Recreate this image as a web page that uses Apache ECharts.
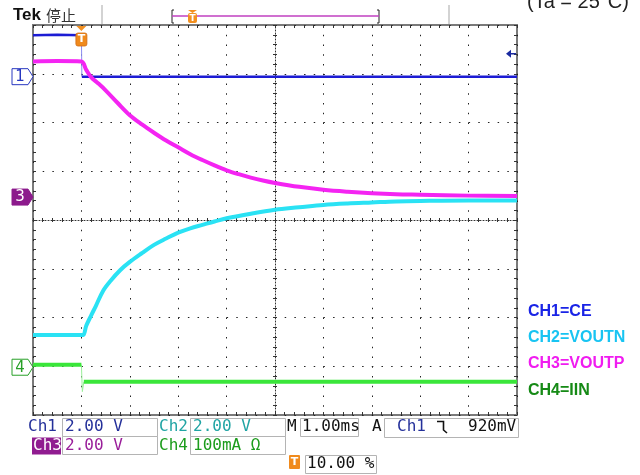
<!DOCTYPE html>
<html><head><meta charset="utf-8">
<script src="https://cdn.jsdelivr.net/npm/echarts/dist/echarts.min.js"></script>
<style>html,body{margin:0;padding:0;background:#fff}#c{width:640px;height:475px}</style>
</head><body><div id="c"></div>
<script>
// Horizontal: time in ms (1.00 ms/div, trigger at 0, 10% position)
const timeRange = [-1, 9];
// Vertical: screen divisions (2.00 V/div, 100 mA/div)
const divRange = [-4, 4];
const ch1CE = [[-1,3.79],[-0.5,3.80],[0,3.79],[0.01,2.94],[4,2.94],[9,2.94]];
const ch2VOUTN = [[-1,-2.36],[-0.5,-2.36],[0,-2.36],[0.04,-2.36],[0.1,-2.17],[0.2,-1.96],[0.3,-1.76],[0.45,-1.45],[0.6,-1.25],[0.8,-1.03],[1.0,-0.86],[1.25,-0.68],[1.5,-0.51],[1.75,-0.38],[2.0,-0.26],[2.25,-0.17],[2.5,-0.10],[2.75,-0.03],[3.0,0.035],[3.5,0.13],[4.0,0.21],[4.5,0.26],[5.0,0.31],[5.5,0.34],[6.0,0.36],[6.5,0.38],[7.0,0.39],[8.0,0.40],[9.0,0.40]];
const ch3VOUTP = [[-1,3.25],[-0.5,3.26],[0,3.25],[0.1,3.08],[0.2,2.93],[0.35,2.80],[0.5,2.66],[0.75,2.40],[1.0,2.15],[1.25,1.96],[1.5,1.79],[1.75,1.63],[2.0,1.49],[2.25,1.35],[2.5,1.23],[2.75,1.12],[3.0,1.02],[3.25,0.94],[3.5,0.87],[3.75,0.81],[4.0,0.76],[4.5,0.68],[5.0,0.62],[5.5,0.58],[6.0,0.55],[6.5,0.53],[7.0,0.52],[8.0,0.50],[9.0,0.49]];
const ch4IIN = [[-1,-2.97],[-0.5,-2.97],[0,-2.97],[0.02,-3.52],[0.05,-3.32],[4,-3.32],[9,-3.32]];
const groundLevels = {ch1: 2.94, ch3: 0.47, ch4: -3.02};
const triggerLevel = 3.41;   // 920 mV on Ch1
const legendNames = ['CH1=CE','CH2=VOUTN','CH3=VOUTP','CH4=IIN'];
const colors = {ch1:'#1c1cd4', ch2:'#2ae2f4', ch3:'#f424f2', ch4:'#3ae63a'};

const chart = echarts.init(document.getElementById('c'), null, {renderer:'canvas'});
const tickStyle = {color:'#333', width:1};
function xAx(extra){
  return Object.assign({type:'value', min:timeRange[0], max:timeRange[1], interval:1,
    axisLabel:{show:false}, splitLine:{show:false},
    axisLine:{show:false, onZero:false},
    axisTick:{show:true, inside:true, length:3, lineStyle:tickStyle},
    minorTick:{show:true, splitNumber:5, length:3, lineStyle:tickStyle}}, extra);
}
function yAx(extra){
  return Object.assign({type:'value', min:divRange[0], max:divRange[1], interval:1,
    axisLabel:{show:false}, splitLine:{show:false},
    axisLine:{show:false, onZero:false},
    axisTick:{show:true, inside:true, length:3, lineStyle:tickStyle},
    minorTick:{show:true, splitNumber:5, length:3, lineStyle:tickStyle}}, extra);
}
function line(data, color, width, z, smooth){
  return {type:'line', data, symbol:'none', showSymbol:false, silent:true, animation:false,
    smooth: smooth || false,
    lineStyle:{color, width, join:'round'}, itemStyle:{color}, z, xAxisIndex:0, yAxisIndex:0};
}
const option = {
  animation:false,
  backgroundColor:'#fff',
  grid:{left:33, top:25, width:484, height:390, show:true, borderColor:'#7a7a7a', borderWidth:2, backgroundColor:'#fff'},
  xAxis:[
    xAx({position:'bottom', splitLine:{show:true, lineStyle:{color:'#222', width:1, type:[1.5,8.25]}}}),
    xAx({position:'top'}),
    xAx({position:'bottom', offset:-195, axisLine:{show:true, onZero:false, lineStyle:{color:'#333', width:1, type:[1,2]}},
         axisTick:{show:true, inside:true, length:2, lineStyle:tickStyle}, minorTick:{show:true, splitNumber:5, length:2, lineStyle:tickStyle}}),
    xAx({position:'bottom', offset:-195, axisTick:{show:true, inside:false, length:2, lineStyle:tickStyle}, minorTick:{show:true, splitNumber:5, length:2, lineStyle:tickStyle}})
  ],
  yAxis:[
    yAx({position:'left', splitLine:{show:true, lineStyle:{color:'#222', width:1, type:[1.5,8.18]}}}),
    yAx({position:'right'}),
    yAx({position:'left', offset:-242, axisLine:{show:true, onZero:false, lineStyle:{color:'#333', width:1, type:[1,2]}},
         axisTick:{show:true, inside:true, length:2, lineStyle:tickStyle}, minorTick:{show:true, splitNumber:5, length:2, lineStyle:tickStyle}}),
    yAx({position:'left', offset:-242, axisTick:{show:true, inside:false, length:2, lineStyle:tickStyle}, minorTick:{show:true, splitNumber:5, length:2, lineStyle:tickStyle}})
  ],
  series:[
    line(ch1CE.slice(0,3), colors.ch1, 2.5, 5),
    line(ch1CE.slice(2,4), '#8a8cf0', 1, 4),
    line(ch1CE.slice(3), colors.ch1, 2.5, 5),
    line(ch2VOUTN, colors.ch2, 4, 6, 0.35),
    line(ch3VOUTP, colors.ch3, 4, 7, 0.35),
    line(ch4IIN.slice(0,3), colors.ch4, 4, 8),
    line(ch4IIN.slice(2,5), '#9af09a', 1, 4),
    line(ch4IIN.slice(4), colors.ch4, 4, 8)
  ]
};
chart.setOption(option);

const P = (x,y) => chart.convertToPixel({xAxisIndex:0, yAxisIndex:0}, [x,y]);
const g = [];
const T = (text, x, y, font, fill, extra) => g.push({type:'text', x, y, z:100, style:Object.assign({text, font, fill, verticalAlign:'middle', align:'left'}, extra||{})});
const R = (x, y, w, h, style) => g.push({type:'rect', z:90, shape:{x, y, width:w, height:h}, style:Object.assign({fill:'none', stroke:'#b4b4b4', lineWidth:1}, style||{})});
const L = (pts, stroke, w) => g.push({type:'polyline', z:95, shape:{points:pts}, style:{stroke, lineWidth:w||1, fill:'none'}});

// top status bar
T('Tek', 13, 15, 'bold 17px "Liberation Sans"', '#111');
T('停止', 46, 15, '15px "Noto Sans CJK SC"', '#333');
L([[102,5],[102,24]], '#c4c4c4', 1.5);
L([[449,5],[449,24]], '#c4c4c4', 1.5);
L([[174,10],[172,10],[172,23],[174,23]], '#222', 1);
L([[377,10],[379,10],[379,23],[377,23]], '#222', 1);
L([[172,16],[379,16]], '#c040c0', 1.5);
// small trigger position marker in the top bar
g.push({type:'polygon', z:96, shape:{points:[[188,10],[197,10],[192.5,13]]}, style:{fill:'#f39020'}});
g.push({type:'rect', z:96, shape:{x:188, y:13, width:9, height:10, r:2}, style:{fill:'#f39020'}});
T('T', 192.5, 18.5, 'bold 9px "DejaVu Sans"', '#fff', {align:'center'});

// (Ta = 25°C), clipped at top
g.push({type:'text', x:527, y:12, z:100, style:{text:'(Ta = 25°C)', font:'20px "Liberation Sans"', fill:'#222', verticalAlign:'bottom', align:'left'}});

// trigger marker on plot
const tp = P(0, 4);
g.push({type:'polygon', z:96, shape:{points:[[tp[0]-5,26],[tp[0]+5,26],[tp[0],31]]}, style:{fill:'#f39020'}});
g.push({type:'rect', z:96, shape:{x:tp[0]-5.5, y:33, width:11, height:13, r:2}, style:{fill:'#f08a1c', stroke:'#d06a10', lineWidth:0.8}});
T('T', tp[0], 39.5, 'bold 11px "DejaVu Sans"', '#fff', {align:'center'});

// trigger level arrow (right)
const tl = P(9, triggerLevel);
g.push({type:'polygon', z:96, shape:{points:[[tl[0]-11,tl[1]],[tl[0]-6,tl[1]-4],[tl[0]-6,tl[1]+4]]}, style:{fill:'#1a2aa0'}});
L([[tl[0]-6,tl[1]],[tl[0]-1,tl[1]]], '#1a2aa0', 1.5);

// channel ground markers
function marker(level, label, stroke, fill, txt){
  const y = P(-1, level)[1];
  g.push({type:'polygon', z:96, shape:{points:[[12,y-8],[28,y-8],[33,y],[28,y+8],[12,y+8]]},
    style:{fill, stroke, lineWidth:1}});
  T(label, 20, y+0.5, '15px "DejaVu Sans"', txt, {align:'center'});
}
marker(groundLevels.ch1, '1', '#2838c0', '#fff', '#2838c0');
marker(groundLevels.ch3, '3', '#8c1a8c', '#8c1a8c', '#fff');
marker(groundLevels.ch4, '4', '#28a028', '#fff', '#28a028');

// legend text on the right
const legColors = ['#1a24e6','#18c4f2','#f01cf0','#168a16'];
const legY = [312, 338, 364, 391];
legendNames.forEach((n,i)=>T(n, 528, legY[i], 'bold 16px "Liberation Sans"', legColors[i]));

// bottom readout
const mono = '16px "DejaVu Sans Mono"';
const navy = '#24309a', teal = '#20a4a4', purple = '#9a1e9a', green = '#1c9c1c';
T('Ch1', 28, 427, mono, navy);
R(62.5, 418.5, 95, 18); T('2.00 V', 65, 427, mono, navy);
T('Ch2', 159, 427, mono, teal);
R(190.5, 418.5, 95, 18); T('2.00 V', 193, 427, mono, teal);
T('M', 287, 427, mono, '#111');
R(300.5, 418.5, 58, 18); T('1.00ms', 302, 427, mono, '#111');
T('A', 372, 427, mono, '#111');
R(384.5, 418.5, 134, 19); T('Ch1', 397, 427, mono, navy);
L([[437,421.5],[443.5,421.5],[443.5,430],[447,433]], '#111', 1.6);
T('920mV', 468, 427, mono, '#111');

R(32, 437.5, 29, 17, {fill:'#901c90', stroke:'none'}); T('Ch3', 33, 446, mono, '#fff');
R(62.5, 436.5, 95, 18); T('2.00 V', 65, 446, mono, purple);
T('Ch4', 159, 446, mono, green);
R(190.5, 436.5, 95, 18); T('100mA Ω', 193, 446, mono, green);

g.push({type:'rect', z:96, shape:{x:289, y:455, width:11, height:14, r:1}, style:{fill:'#f08a1c'}});
T('T', 294.5, 462, 'bold 11px "DejaVu Sans"', '#fff', {align:'center'});
R(305.5, 455.5, 71, 18); T('10.00 %', 307, 464, mono, '#111');

chart.setOption({graphic: g});
</script></body></html>
